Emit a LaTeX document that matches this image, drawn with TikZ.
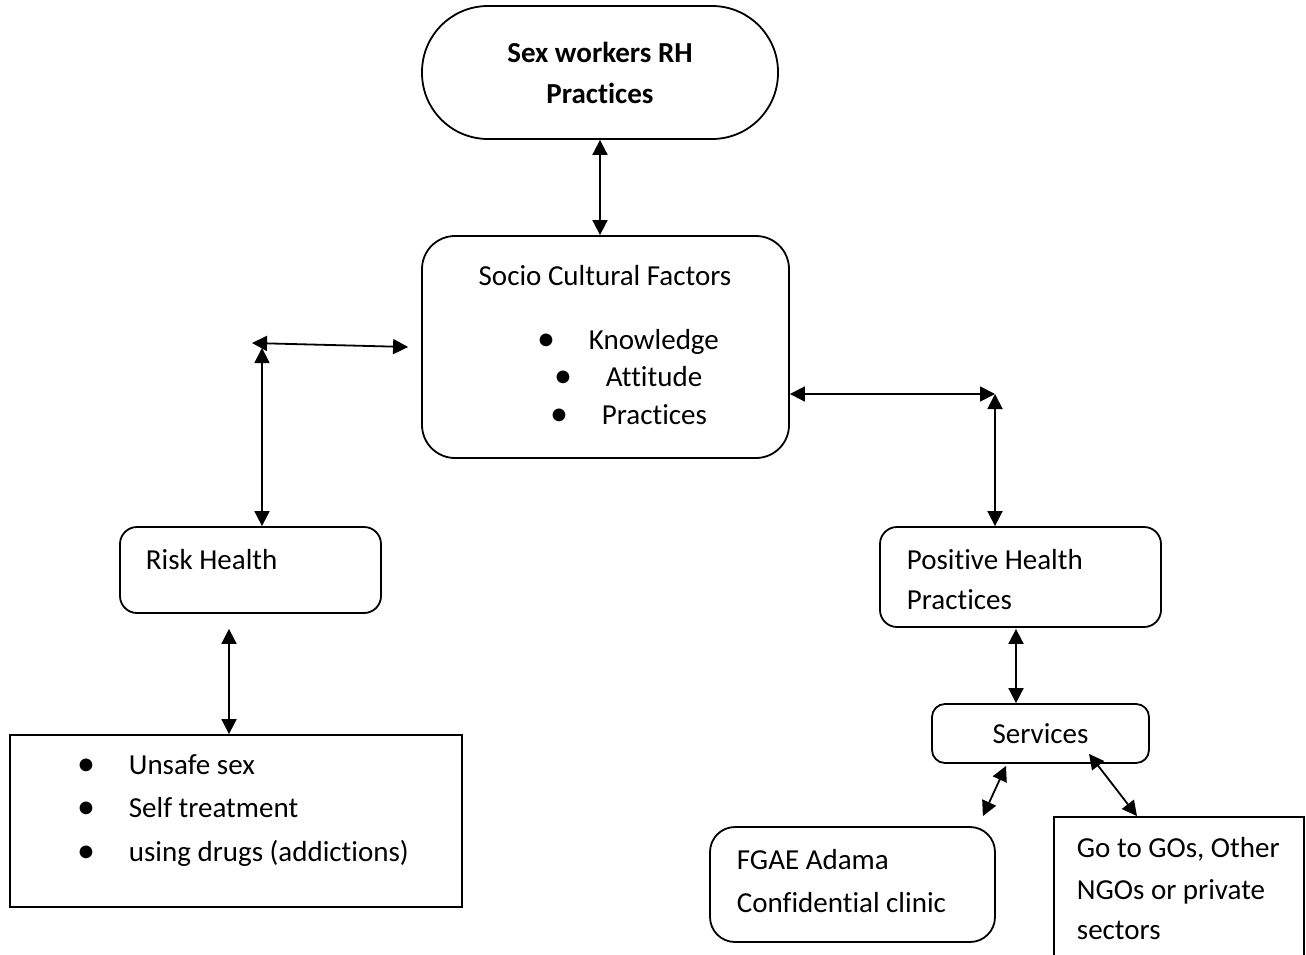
\documentclass[tikz,border=0pt]{standalone}
\usepackage{fontspec}
\setmainfont[Ligatures=NoCommon]{Carlito}
\usetikzlibrary{arrows.meta}

\begin{document}
\begin{tikzpicture}[x=1pt,y=-1pt,
  line width=1.8pt,
  every node/.style={font=\fontsize{29}{41}\selectfont, inner sep=0pt},
  box node/.style={draw, rounded corners=17pt},
  flat node/.style={draw},
  text node/.style={anchor=base west},
  dot node/.style={font=\fontsize{36}{41}\selectfont},
  link/.style={{Triangle[length=15pt,width=15pt]}-{Triangle[length=15pt,width=15pt]}}]

  \useasboundingbox (0,0) rectangle (1306,955);
  \clip (0,0) rectangle (1306,955);

  % goal
  \node[box node, rounded corners=66pt, minimum width=356pt, minimum height=133pt,
    align=center, font=\fontsize{29}{41}\selectfont\bfseries] (top) at (600,72.5) {Sex workers RH\\Practices};

  % factors
  \node[box node, rounded corners=33pt, minimum width=367pt, minimum height=222pt] (socio) at (605.5,347) {};
  \node[anchor=base] (sociot) at (605,285) {Socio Cultural Factors};
  \node[dot node] (kdot) at (546,342) {\textbullet};
  \node[text node] (k) at (588,349) {Knowledge};
  \node[dot node] (adot) at (563,379) {\textbullet};
  \node[text node] (a) at (605,386) {Attitude};
  \node[dot node] (pdot) at (559,417) {\textbullet};
  \node[text node] (p) at (601,424) {Practices};

  % risk side
  \node[box node, minimum width=261pt, minimum height=86pt] (risk) at (250.5,570) {};
  \node[text node] (riskt) at (145,569) {Risk Health};
  \node[flat node, minimum width=452pt, minimum height=172pt] (list) at (236,821) {};
  \node[dot node] (udot) at (86,767) {\textbullet};
  \node[text node] (u) at (128,774) {Unsafe sex};
  \node[dot node] (sdot) at (86,810) {\textbullet};
  \node[text node] (s) at (128,817) {Self treatment};
  \node[dot node] (ddot) at (86,854) {\textbullet};
  \node[text node] (d) at (128,861) {using drugs (addictions)};

  % positive side
  \node[box node, minimum width=281pt, minimum height=100pt] (pos) at (1020.5,577) {};
  \node[text node] (post1) at (906,569) {Positive Health};
  \node[text node] (post2) at (906,609) {Practices};
  \node[box node, rounded corners=13pt, minimum width=217pt, minimum height=59pt] (serv) at (1040.5,733.5) {Services};
  \node[box node, rounded corners=25pt, minimum width=285pt, minimum height=115pt] (fgae) at (852.5,884.5) {};
  \node[text node] (fgae1) at (736,869) {FGAE Adama};
  \node[text node] (fgae2) at (736,912) {Confidential clinic};
  \node[flat node, minimum width=250pt, minimum height=166pt] (go) at (1179,900) {};
  \node[text node] (go1) at (1076,857) {Go to GOs, Other};
  \node[text node] (go2) at (1076,899) {NGOs or private};
  \node[text node] (go3) at (1076,939) {sectors};

  \coordinate (lh) at (252,343);
  \coordinate (lv) at (262,348);
  \coordinate (rj) at (995,394);

  \path[link]
   (top.south) edge (top.south |- socio.north)
   (lh) edge ([xshift=-13pt]socio.west)
   (lv) edge (lv |- risk.north)
   ([xshift=-21.5pt,yshift=-15pt]risk.south) edge ([xshift=-7pt]list.north)
   (socio.east |- rj) edge (rj)
   (rj) edge (rj |- pos.north)
   ([xshift=-4.5pt,yshift=-1pt]pos.south) edge ([xshift=-24.5pt]serv.north)
   ([xshift=-34.5pt,yshift=-2pt]serv.south) edge ([xshift=-13pt,yshift=10pt]fgae.north east)
   ([xshift=48.5pt,yshift=10pt]serv.south) edge ([xshift=-42pt]go.north);
\end{tikzpicture}
\end{document}
